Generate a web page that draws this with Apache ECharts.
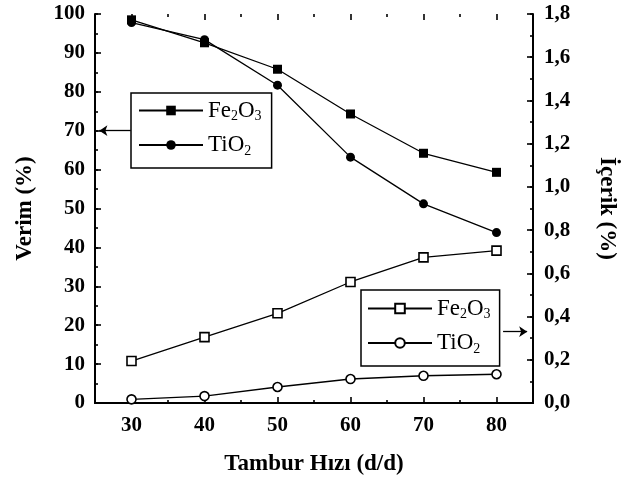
<!DOCTYPE html>
<html>
<head>
<meta charset="utf-8">
<title>Tambur Hızı</title>
<script src="https://cdn.jsdelivr.net/npm/echarts@6/dist/echarts.min.js"></script>
<style>
  html, body { margin: 0; padding: 0; background: #fff; }
  #main { width: 623px; height: 485px; }
</style>
</head>
<body>
<div id="main"></div>
<script>
// tambur hızı (d/d)
let hiz = [30, 40, 50, 60, 70, 80]
// verim (%) - sol eksen, dolu işaretler
let verimFe = [98.5, 92.6, 85.8, 74.3, 64.2, 59.3]
let verimTi = [97.8, 93.4, 81.7, 63.2, 51.2, 43.8]
// içerik (%) - sağ eksen, boş işaretler
let icerikFe = [0.194, 0.305, 0.415, 0.56, 0.674, 0.705]
let icerikTi = [0.017, 0.032, 0.074, 0.111, 0.126, 0.133]
// x ekseni etiketleri
let xLabels = [30, 40, 50, 60, 70, 80]

let font = 'Liberation Serif'
let black = '#000'
let myChart = echarts.init(document.getElementById('main'))

function pairs(ys) {
    return hiz.map(function (x, i) { return [x, ys[i]] })
}

// lejant metinleri (alt simgeli)
let legendText = {
    'Fe2O3 verim': '{a|Fe}{s|2}{a|O}{s|3}',
    'TiO2 verim': '{a|TiO}{s|2}',
    'Fe2O3 içerik': '{a|Fe}{s|2}{a|O}{s|3}',
    'TiO2 içerik': '{a|TiO}{s|2}'
}
let rich = {
    a: { fontFamily: font, fontSize: 23, color: black, lineHeight: 26 },
    s: { fontFamily: font, fontSize: 14, color: black, lineHeight: 26, verticalAlign: 'bottom' }
}

let label = { fontFamily: font, fontSize: 21, fontWeight: 'bold', color: black }
let nameStyle = { fontFamily: font, fontSize: 23, fontWeight: 'bold', color: black }

function legend(names, left, top, padding) {
    return {
        data: names,
        orient: 'vertical',
        left: left,
        top: top,
        padding: padding,
        itemWidth: 64,
        itemHeight: 12,
        itemGap: 10,
        borderColor: black,
        borderWidth: 1.5,
        borderRadius: 0,
        selectedMode: false,
        formatter: function (name) { return legendText[name] },
        textStyle: { color: black, rich: rich }
    }
}

function lineSeries(name, ys, yAxis, symbol, fill) {
    return {
        name: name,
        type: 'line',
        xAxisIndex: 0,
        yAxisIndex: yAxis,
        data: pairs(ys),
        symbol: symbol,
        symbolSize: 9,
        lineStyle: { color: black, width: 1.3 },
        itemStyle: { color: fill, borderColor: black, borderWidth: fill === black ? 0 : 1.6 },
        z: fill === black ? 3 : 4,
        animation: false
    }
}

let series = [
    lineSeries('Fe2O3 verim', verimFe, 0, 'rect', black),
    lineSeries('TiO2 verim', verimTi, 0, 'circle', black),
    lineSeries('Fe2O3 içerik', icerikFe, 1, 'rect', '#fff'),
    lineSeries('TiO2 içerik', icerikTi, 1, 'circle', '#fff')
]
// lejanttan eksene oklar
series[0].markLine = {
    silent: true,
    symbol: ['arrow', 'none'],
    symbolSize: 8,
    label: { show: false },
    lineStyle: { color: black, width: 1.3, type: 'solid' },
    data: [[{ coord: [25.6, 70] }, { coord: [29.9, 70] }]]
}
series[2].markLine = {
    silent: true,
    symbol: ['none', 'arrow'],
    symbolSize: 8,
    label: { show: false },
    lineStyle: { color: black, width: 1.3, type: 'solid' },
    data: [[{ coord: [80.9, 0.33] }, { coord: [84.2, 0.33] }]]
}

// x: 25..85 -> 95..533 px (7.3 px / birim)
// 0: eksenler ve etiketler, 1: x büyük çentik (30..80), 2: x küçük çentik (35..75)
// 3: y büyük çentikler, 4: y küçük çentikler
let box = { top: 14, bottom: 82, outerBoundsMode: 'none' }
let grids = [
    Object.assign({ left: 95, right: 90 }, box),
    Object.assign({ left: 131.5, right: 126.5 }, box),
    Object.assign({ left: 168, right: 163 }, box),
    Object.assign({ left: 95, right: 90 }, box),
    Object.assign({ left: 95, right: 90 }, box)
]

function tickAxisX(grid, pos, min, max, len) {
    return {
        type: 'value', gridIndex: grid, position: pos, min: min, max: max, interval: 10,
        axisLine: { show: false },
        axisTick: { show: len > 0, inside: true, length: len, lineStyle: { color: black, width: 1.6 } },
        axisLabel: { show: false },
        splitLine: { show: false }
    }
}
function tickAxisY(grid, pos, max, step, len) {
    return {
        type: 'value', gridIndex: grid, position: pos, min: 0, max: max, interval: step,
        axisLine: { show: false },
        axisTick: { show: len > 0, inside: true, length: len, lineStyle: { color: black, width: 1.6 } },
        axisLabel: { show: false },
        splitLine: { show: false }
    }
}

myChart.setOption({
    backgroundColor: '#fff',
    animation: false,
    grid: grids,
    legend: [
        legend(['Fe2O3 verim', 'TiO2 verim'], 131, 93, [6, 10, 10, 7]),
        legend(['Fe2O3 içerik', 'TiO2 içerik'], 361, 290, [7, 9, 10, 6])
    ],
    xAxis: [
        {
            type: 'value', gridIndex: 0, position: 'bottom', min: 25, max: 85,
            axisLine: { lineStyle: { color: black, width: 2 } },
            axisTick: { show: false },
            axisLabel: Object.assign({ customValues: xLabels, margin: 12 }, label),
            splitLine: { show: false },
            name: 'Tambur Hızı (d/d)', nameLocation: 'middle', nameGap: 50,
            nameMoveOverlap: false, nameTextStyle: nameStyle
        },
        {
            type: 'value', gridIndex: 0, position: 'top', min: 25, max: 85,
            axisLine: { lineStyle: { color: black, width: 2 } },
            axisTick: { show: false },
            axisLabel: { show: false },
            splitLine: { show: false }
        },
        tickAxisX(1, 'bottom', 30, 80, 6),
        tickAxisX(1, 'top', 30, 80, 6),
        tickAxisX(2, 'bottom', 35, 75, 3),
        tickAxisX(2, 'top', 35, 75, 3),
        tickAxisX(3, 'bottom', 25, 85, 0),
        tickAxisX(4, 'bottom', 25, 85, 0)
    ],
    yAxis: [
        {
            type: 'value', gridIndex: 0, position: 'left', min: 0, max: 100, interval: 10,
            axisLine: { show: true, lineStyle: { color: black, width: 2 } },
            axisTick: { show: false },
            axisLabel: Object.assign({ margin: 10 }, label),
            splitLine: { show: false },
            name: 'Verim (%)', nameLocation: 'middle', nameGap: 58,
            nameMoveOverlap: false, nameTextStyle: nameStyle
        },
        {
            type: 'value', gridIndex: 0, position: 'right', min: 0, max: 1.8, interval: 0.2,
            axisLine: { show: true, lineStyle: { color: black, width: 2 } },
            axisTick: { show: false },
            axisLabel: Object.assign({
                margin: 11,
                formatter: function (v) { return v.toFixed(1).replace('.', ',') }
            }, label),
            splitLine: { show: false },
            name: 'İçerik (%)', nameLocation: 'middle', nameGap: 62, nameRotate: -90,
            nameMoveOverlap: false, nameTextStyle: nameStyle
        },
        tickAxisY(1, 'left', 100, 100, 0),
        tickAxisY(2, 'left', 100, 100, 0),
        tickAxisY(3, 'left', 100, 10, 6),
        tickAxisY(3, 'right', 1.8, 0.2, 6),
        tickAxisY(4, 'left', 100, 5, 3),
        tickAxisY(4, 'right', 1.8, 0.1, 3)
    ],
    series: series
})
</script>
</body>
</html>
